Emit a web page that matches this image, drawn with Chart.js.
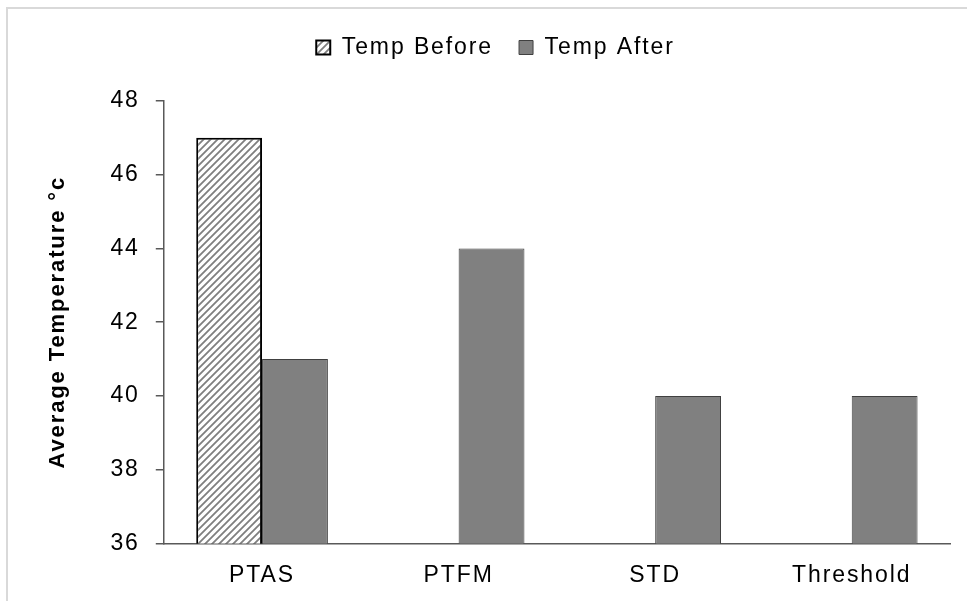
<!DOCTYPE html>
<html>
<head>
<meta charset="utf-8">
<script src="https://cdn.jsdelivr.net/npm/chart.js@4"></script>
<style>
  html, body { margin: 0; padding: 0; background: #fff; }
  #wrap { position: relative; width: 967px; height: 601px; overflow: hidden; }
  #frame { position: absolute; left: 6px; top: 7px; width: 1000px; height: 700px;
           border-left: 2px solid #d9d9d9; border-top: 2px solid #d9d9d9; }
  canvas { position: absolute; left: 0; top: 0; }
</style>
</head>
<body>
<div id="wrap">
  <div id="frame"></div>
  <canvas id="tempChart" width="967" height="601"></canvas>
</div>
<script>
const categories = ['PTAS', 'PTFM', 'STD', 'Threshold'];
const tempBefore = [47, null, null, null];
const tempAfter = [41, 44, 40, 40];
const yTicks = [36, 38, 40, 42, 44, 46, 48];

const FONT = 'Liberation Sans, Arial';

function makeHatch() {
    const c = document.createElement('canvas');
    c.width = 7; c.height = 7;
    const g = c.getContext('2d');
    g.fillStyle = '#fff';
    g.fillRect(0, 0, 7, 7);
    g.strokeStyle = '#7f7f7f';
    g.lineWidth = 1.8;
    g.beginPath();
    g.moveTo(-1, 8); g.lineTo(8, -1);
    g.moveTo(-8, 8); g.lineTo(1, -1);
    g.moveTo(6, 8); g.lineTo(15, -1);
    g.stroke();
    return g.createPattern(c, 'repeat');
}

// Excel-ish wide text spacing
const spacing = {
    id: 'spacing',
    beforeUpdate(chart) { chart.ctx.letterSpacing = '1.9px'; },
    beforeDraw(chart) { chart.ctx.letterSpacing = '1.9px'; }
};

// extra room under the legend
const legendGap = {
    id: 'legendGap',
    beforeInit(chart) {
        const fit = chart.legend.fit;
        chart.legend.fit = function () {
            fit.bind(chart.legend)();
            this.height += 32;
        };
    }
};

document.addEventListener("DOMContentLoaded", () => {
    const ctx = document.getElementById('tempChart').getContext('2d');
    const hatch = makeHatch();

    new Chart(ctx, {
        type: 'bar',
        data: {
            labels: categories,
            datasets: [
                {
                    label: 'Temp Before',
                    data: tempBefore,
                    backgroundColor: hatch,
                    borderColor: '#000',
                    borderWidth: 2
                },
                {
                    label: 'Temp After',
                    data: tempAfter,
                    backgroundColor: '#808080',
                    borderColor: '#404040',
                    borderWidth: 1
                }
            ]
        },
        options: {
            responsive: false,
            animation: false,
            layout: { padding: { left: 41, right: 17, top: 10, bottom: 2 } },
            datasets: {
                bar: { categoryPercentage: 0.67, barPercentage: 1.0 }
            },
            plugins: {
                legend: {
                    position: 'top',
                    labels: {
                        color: '#000',
                        font: { family: FONT, size: 23 },
                        boxWidth: 14,
                        boxHeight: 14,
                        padding: 26
                    }
                },
                tooltip: { enabled: false }
            },
            scales: {
                x: {
                    grid: { display: false },
                    border: { color: '#595959', width: 1.5 },
                    ticks: {
                        color: '#000',
                        font: { family: FONT, size: 23 },
                        padding: 10
                    }
                },
                y: {
                    min: 36,
                    max: 48,
                    afterBuildTicks: axis => {
                        axis.ticks = yTicks.map(v => ({ value: v }));
                    },
                    grid: {
                        drawOnChartArea: false,
                        drawTicks: true,
                        tickLength: 8,
                        color: '#595959',
                        lineWidth: 1.5
                    },
                    border: { color: '#595959', width: 1.5 },
                    ticks: {
                        color: '#000',
                        font: { family: FONT, size: 23 },
                        padding: 16
                    },
                    title: {
                        display: true,
                        text: 'Average Temperature °c',
                        color: '#000',
                        font: { family: FONT, size: 22, weight: 'bold' },
                        padding: { bottom: 23 }
                    }
                }
            }
        },
        plugins: [spacing, legendGap]
    });
});
</script>
</body>
</html>
